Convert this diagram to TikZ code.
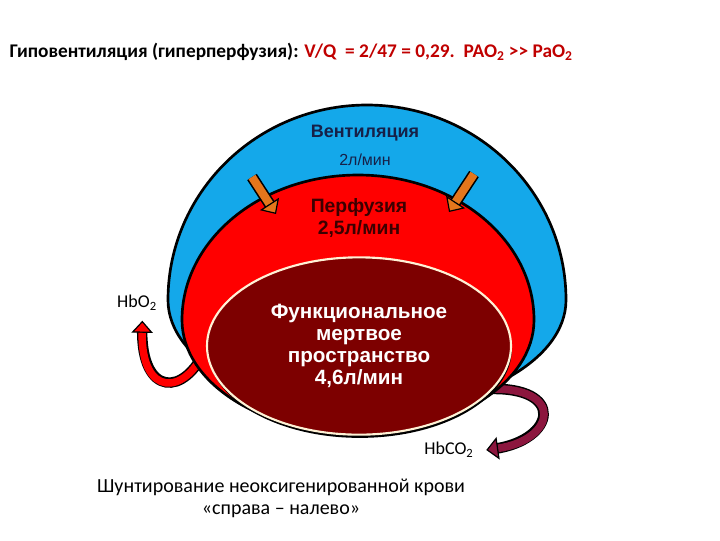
\documentclass[tikz,border=0pt]{standalone}
\usepackage{fontspec}
\setmainfont{Carlito}
\newfontfamily\arialf{Liberation Sans}
\usepackage{xcolor}
\definecolor{ventblue}{RGB}{20,168,234}
\definecolor{perfred}{RGB}{255,0,0}
\definecolor{deadred}{RGB}{125,0,0}
\definecolor{creamln}{RGB}{255,242,214}
\definecolor{flowor}{RGB}{228,118,28}
\definecolor{shuntmar}{RGB}{140,22,62}
\definecolor{titred}{RGB}{192,0,0}
\definecolor{ventink}{RGB}{22,32,72}
\definecolor{perfink}{RGB}{60,0,0}
\usetikzlibrary{arrows.meta,shapes.geometric,shadows}
\tikzset{
  zone/.style={draw=black,line width=2pt},
  rimln/.style={line width=#1,draw=black,shorten >=6pt},
  flowar/.style={line width=6.2pt,draw=flowor,
    -{Triangle[width=17pt,length=9pt,color=black,fill=flowor,line width=0.9pt]}},
  shuntA/.style={line width=5.6pt,draw=perfred,
    -{Triangle[width=16pt,length=9pt,color=black,fill=perfred,line width=0.9pt]}},
  shuntB/.style={line width=5.8pt,draw=shuntmar,
    -{Triangle[width=17pt,length=9pt,color=black,fill=shuntmar,line width=0.9pt]}},
  vlab/.style={font=\arialf\fontsize{12}{14}\selectfont,text=ventink},
  plab/.style={font=\arialf\bfseries\fontsize{14.5}{16}\selectfont,text=perfink,align=center},
  hblab/.style={font=\fontsize{13.5}{15}\selectfont},
}
\begin{document}
\begin{tikzpicture}[x=0.75pt,y=-0.75pt]
  \useasboundingbox (0,0) rectangle (720,540);
  % заголовок
  \node[anchor=west,font=\bfseries\fontsize{14.5}{17}\selectfont] (ttl) at (5,52)
    {Гиповентиляция (гиперперфузия): \textcolor{titred}{V/Q\ \ = 2/47 = 0,29.\ \ PAO\textsubscript{2} >{}> PaO\textsubscript{2}}};
  % шунты (выходят из-под областей)
  \node[hblab] (hbo) at (137,303) {HbO\textsubscript{2}};
  \node[hblab] (hbco) at (449,450) {HbCO\textsubscript{2}};
  \coordinate (sa) at (206,348);
  \coordinate (sb) at (488,389);
  \draw[rimln=7.8pt] (sa) .. controls (185,397) and (141,397) .. ([xshift=4pt,yshift=-4pt]hbo.south);
  \draw[shuntA] (sa) .. controls (185,397) and (141,397) .. ([xshift=4pt,yshift=-4pt]hbo.south);
  \draw[rimln=8pt] (sb) .. controls (566,386) and (556,440) .. ([xshift=6pt]hbco.east);
  \draw[shuntB] (sb) .. controls (566,386) and (556,440) .. ([xshift=6pt]hbco.east);
  % вентиляция и перфузия
  \draw[zone,fill=ventblue] (168,300) arc[start angle=180,end angle=360,x radius=199,y radius=195]
    arc[start angle=0,end angle=180,x radius=199,y radius=110] -- cycle;
  \draw[zone,fill=perfred] (182,320) arc[start angle=180,end angle=360,x radius=176,y radius=145]
    arc[start angle=0,end angle=180,x radius=176,y radius=113] -- cycle;
  \node[vlab,font=\arialf\bfseries\fontsize{13.5}{16}\selectfont] (vent) at (365,133) {Вентиляция};
  \node[vlab] (ventq) at (365,160) {2л/мин};
  \node[plab] (perf) at (359,218) {Перфузия\\2,5л/мин};
  % потоки воздуха
  \coordinate (vl1) at (252,177); \coordinate (vl2) at (276,214);
  \coordinate (vr1) at (474,174); \coordinate (vr2) at (449,212);
  \draw[rimln=8.6pt] (vl1) -- (vl2);
  \draw[flowar] (vl1) -- (vl2);
  \draw[rimln=8.6pt] (vr1) -- (vr2);
  \draw[flowar] (vr1) -- (vr2);
  % мертвое пространство
  \node[ellipse,fill=deadred,draw=creamln,line width=1.6pt,minimum width=228pt,minimum height=133pt,
    drop shadow={shadow xshift=0.6pt,shadow yshift=-2.4pt,fill=black,opacity=1},
    text=white,align=center,font=\arialf\bfseries\fontsize{15.5}{16.5}\selectfont] (dead) at (359,346)
    {Функциональное\\мертвое\\пространство\\4,6л/мин};
  \node[align=center,font=\fontsize{15}{16.5}\selectfont] (shunt) at (281,498)
    {Шунтирование неоксигенированной крови\\«справа – налево»};
\end{tikzpicture}
\end{document}
